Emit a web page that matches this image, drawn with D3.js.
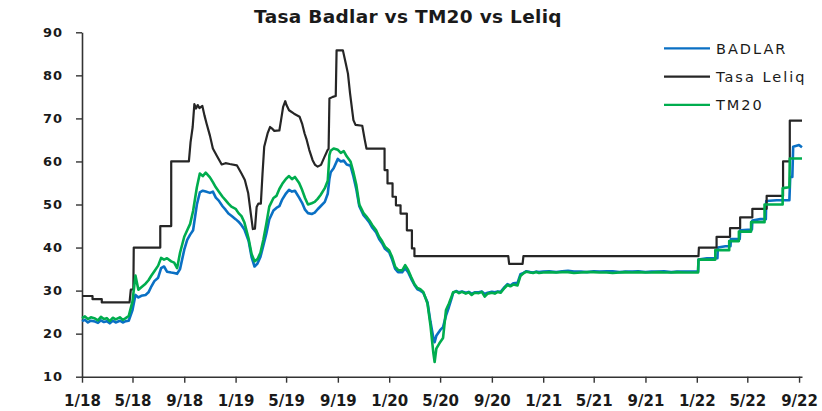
<!DOCTYPE html>
<html>
<head>
<meta charset="utf-8">
<script src="https://cdn.jsdelivr.net/npm/d3@7"></script>
<style>
  body { margin: 0; background: #fff; }
  svg text { font-family: "DejaVu Sans", sans-serif; }
</style>
</head>
<body>
<script>
// fechas semanales compartidas por BADLAR y TM20 (2018 - 2021)
const fechas = [
  '2018-01-01','2018-01-08','2018-01-15','2018-01-22',
  '2018-02-01','2018-02-08','2018-02-15','2018-02-22',
  '2018-03-01','2018-03-08','2018-03-15','2018-03-22',
  '2018-04-01','2018-04-08','2018-04-15','2018-04-22',
  '2018-05-01','2018-05-08','2018-05-15','2018-05-22',
  '2018-06-01','2018-06-08','2018-06-15','2018-06-22',
  '2018-07-01','2018-07-08','2018-07-15','2018-07-22',
  '2018-08-01','2018-08-08','2018-08-15','2018-08-22',
  '2018-09-01','2018-09-08','2018-09-15','2018-09-22',
  '2018-10-01','2018-10-08','2018-10-15','2018-10-22',
  '2018-11-01','2018-11-08','2018-11-15','2018-11-22',
  '2018-12-01','2018-12-08','2018-12-15','2018-12-22',
  '2019-01-01','2019-01-08','2019-01-15','2019-01-22',
  '2019-02-01','2019-02-08','2019-02-15','2019-02-22',
  '2019-03-01','2019-03-08','2019-03-15','2019-03-22',
  '2019-04-01','2019-04-08','2019-04-15','2019-04-22',
  '2019-05-01','2019-05-08','2019-05-15','2019-05-22',
  '2019-06-01','2019-06-08','2019-06-15','2019-06-22',
  '2019-07-01','2019-07-08','2019-07-15','2019-07-22',
  '2019-08-01','2019-08-08','2019-08-12','2019-08-15','2019-08-22',
  '2019-09-01','2019-09-08','2019-09-15','2019-09-22',
  '2019-10-01','2019-10-08','2019-10-15','2019-10-22',
  '2019-11-01','2019-11-08','2019-11-15','2019-11-22',
  '2019-12-01','2019-12-08','2019-12-15','2019-12-22',
  '2020-01-01','2020-01-08','2020-01-15','2020-01-22',
  '2020-02-01','2020-02-08','2020-02-15','2020-02-22',
  '2020-03-01','2020-03-08','2020-03-15','2020-03-22',
  '2020-04-01','2020-04-08','2020-04-15','2020-04-18','2020-04-22','2020-04-29',
  '2020-05-01','2020-05-08','2020-05-15','2020-05-22','2020-05-29',
  '2020-06-01','2020-06-08','2020-06-15','2020-06-22',
  '2020-07-01','2020-07-08','2020-07-15','2020-07-22',
  '2020-08-01','2020-08-08','2020-08-15','2020-08-22',
  '2020-09-01','2020-09-08','2020-09-15','2020-09-22',
  '2020-10-01','2020-10-08','2020-10-15','2020-10-22',
  '2020-11-01','2020-11-08','2020-11-15','2020-11-22',
  '2020-12-01','2020-12-08','2020-12-15','2020-12-22',
  '2021-01-01','2021-01-15','2021-02-01','2021-02-15','2021-03-01','2021-03-15',
  '2021-04-01','2021-04-15','2021-05-01','2021-05-15','2021-06-01','2021-06-15',
  '2021-07-01','2021-07-15','2021-08-01','2021-08-15','2021-09-01','2021-09-15',
  '2021-10-01','2021-10-15','2021-11-01','2021-11-15','2021-12-01','2021-12-15',
  '2022-01-04'
];

const tm20 = [
  23.6,24.0,23.4,23.8, 23.5,23.1,23.9,23.4, 23.6,22.9,23.7,23.3, 23.8,23.2,23.6,24.1,
  27.5,33.5,30.2,30.8, 31.6,32.4,33.5,34.5, 35.8,37.6,37.2,37.5, 36.8,36.5,35.2,38.8,
  42.5,44.0,45.5,48.5, 54.0,57.2,56.6,57.4, 56.3,55.2,54.0,53.0, 51.8,51.0,50.2,49.5,
  49.0,48.0,47.3,45.8, 42.0,38.5,36.8,37.3, 38.8,41.8,45.5,49.5, 51.5,52.0,53.6,54.8,
  56.0,56.6,55.9,56.4, 55.0,53.4,51.5,50.0, 50.3,50.6,51.3,52.2, 53.8,55.5,61.5,62.5,63.0,
  62.7,62.0,62.4,61.2, 60.0,57.5,54.5,50.0, 48.0,47.2,46.3,45.2, 44.0,42.5,41.5,40.2,
  39.3,37.8,35.6,34.8, 34.7,35.9,34.8,33.2, 31.5,30.6,30.3,29.7, 27.0,22.0,15.5,13.4,16.5,17.7,
  18.0,19.0,25.5,27.0,28.8, 29.6,29.8,29.4,29.7, 29.3,29.6,29.0,29.5, 29.4,29.7,28.6,29.3,
  29.5,29.3,29.7,29.5, 30.6,31.3,31.0,31.4, 31.2,33.4,34.0,34.4, 34.2,34.1,34.3,34.1,
  34.2,34.3,34.2,34.3,34.3,34.1, 34.2,34.3,34.3,34.2,34.2,34.1,
  34.2,34.3,34.2,34.3,34.2,34.2, 34.3,34.2,34.2,34.3,34.2,34.2,
  34.2
];

const badlar = [
  22.9,23.2,22.6,23.0, 22.8,22.5,23.1,22.7, 22.9,22.4,23.0,22.6, 23.0,22.6,22.9,23.0,
  25.5,29.0,28.4,28.8, 29.0,29.6,31.0,32.2, 33.0,35.2,35.6,34.4, 34.2,34.1,33.9,35.0,
  39.5,41.8,43.0,44.0, 50.0,52.8,53.2,53.0, 52.7,53.0,51.6,50.9, 49.6,48.8,47.9,47.4,
  46.6,46.0,45.2,44.2, 41.5,37.8,35.6,36.3, 37.8,40.5,43.2,46.5, 48.6,49.2,49.6,51.2,
  52.6,53.4,53.0,53.2, 51.6,50.4,48.8,48.0, 47.8,48.1,48.9,49.6, 50.6,52.5,56.0,57.5,58.4,
  60.6,60.0,60.2,59.3, 59.0,56.5,53.5,49.6, 47.5,46.7,45.8,44.6, 43.5,42.0,41.0,39.7,
  38.9,37.2,35.1,34.3, 34.3,35.2,34.3,32.8, 31.3,30.3,30.0,29.5, 27.3,22.8,19.0,18.0,19.5,20.5,
  20.8,21.5,24.2,26.2,28.4, 29.5,29.9,29.6,29.8, 29.5,29.7,29.3,29.6, 29.6,29.8,29.2,29.5,
  29.7,29.6,29.8,29.7, 30.8,31.5,31.2,31.7, 31.8,33.8,34.1,34.5, 34.3,34.2,34.4,34.3,
  34.4,34.5,34.3,34.5,34.6,34.4, 34.4,34.3,34.5,34.4,34.5,34.5,
  34.3,34.4,34.4,34.5,34.3,34.4, 34.4,34.5,34.3,34.4,34.4,34.4,
  34.4
];

// tramo 2022 (escalones)
const tm20Fechas22 = [
  '2022-01-05','2022-02-14','2022-02-14','2022-03-19','2022-03-19','2022-04-11','2022-04-11',
  '2022-05-10','2022-05-10','2022-06-11','2022-06-11','2022-07-24','2022-07-24','2022-08-09',
  '2022-08-10','2022-09-08'
];
const tm20Valores22 = [
  37.2,37.2,39.4,39.4,41.5,41.5,43.7,
  43.7,45.9,45.9,50.0,50.0,53.8,54.0,
  60.7,60.7
];

const badlarFechas22 = [
  '2022-01-05','2022-01-25','2022-02-19','2022-02-20','2022-03-10','2022-03-22','2022-03-23',
  '2022-04-13','2022-04-14','2022-05-12','2022-05-13','2022-06-01','2022-06-14','2022-06-15',
  '2022-07-10','2022-08-09','2022-08-11','2022-08-16','2022-08-18','2022-09-01','2022-09-08'
];
const badlarValores22 = [
  37.2,37.5,37.5,40.0,40.3,40.3,42.0,
  42.0,44.0,44.2,46.3,46.6,46.6,50.8,
  51.0,51.0,56.4,56.4,63.4,63.8,63.3
];

// tasa Leliq
const leliqFechas = [
  '2018-01-01','2018-01-26','2018-01-26','2018-02-17','2018-02-17','2018-04-24','2018-04-27',
  '2018-05-03','2018-05-04','2018-07-06','2018-07-06','2018-08-01','2018-08-01','2018-09-12',
  '2018-09-16','2018-09-21','2018-09-25','2018-09-29','2018-10-03','2018-10-07','2018-10-14',
  '2018-10-19','2018-10-24','2018-11-01','2018-11-08','2018-11-17','2018-11-29','2018-12-08',
  '2018-12-18','2019-01-04','2019-01-15','2019-01-23','2019-01-31','2019-02-06','2019-02-11',
  '2019-02-16','2019-02-20','2019-02-24','2019-03-02','2019-03-06','2019-03-10','2019-03-18',
  '2019-03-24','2019-03-28','2019-04-03','2019-04-15','2019-04-19','2019-04-24','2019-04-29',
  '2019-05-02','2019-05-08','2019-05-20','2019-06-02','2019-06-08','2019-06-14','2019-06-19',
  '2019-06-25','2019-07-03','2019-07-09','2019-07-15','2019-07-23','2019-07-31','2019-08-08',
  '2019-08-10','2019-08-12','2019-08-20','2019-08-27','2019-08-29','2019-09-13','2019-09-20',
  '2019-09-25','2019-09-30','2019-10-08','2019-10-13','2019-10-29','2019-11-04','2019-11-08',
  '2019-12-21','2019-12-21','2019-12-28','2019-12-28','2020-01-09','2020-01-09','2020-01-17',
  '2020-01-17','2020-01-28','2020-01-28','2020-02-12','2020-02-12','2020-02-24','2020-02-24',
  '2020-03-01','2020-03-01','2020-10-10','2020-10-12','2020-11-13','2020-11-15','2022-01-05',
  '2022-01-06','2022-02-17','2022-02-17','2022-03-21','2022-03-21','2022-04-14','2022-04-14',
  '2022-05-13','2022-05-13','2022-06-16','2022-06-16','2022-07-25','2022-07-25','2022-08-10',
  '2022-08-10','2022-09-08'
];
const leliq = [
  28.75,28.75,28.0,28.0,27.25,27.25,30.25,
  30.25,40,40,45,45,60,60,
  64.5,68,73.3,72.3,73.1,72.4,72.9,
  70.7,68.8,66,63,61.4,59.3,59.6,
  59.4,59.1,57.2,55.7,52.6,48,44.3,
  44.4,49.4,50.2,50.2,57.2,63.4,66.5,
  68,67.7,67.1,67.2,69.6,72.7,74.0,
  73.1,71.9,71.1,70.4,68.8,66.5,65,
  62.7,60.3,59.2,58.8,59.2,61,62.7,
  62.9,74.6,75,75.2,85.8,85.8,82.7,
  80.4,75.8,69.6,68.5,68.3,65,63,
  63,58,58,54.9,54.9,51.8,51.8,
  49.8,49.8,47.9,47.9,44,44,39.8,
  39.8,38,38,36.2,36.2,38,38,
  40,40,42.5,42.5,44.5,44.5,47,
  47,49,49,52,52,60,60,
  69.5,69.5
];

const series = ['BADLAR', 'Tasa Leliq', 'TM20'];
const colores = ['#0a70c4', '#262626', '#00ad4e'];

const yTicks = [10, 20, 30, 40, 50, 60, 70, 80, 90];
const xTickFechas = [
  '2018-01-01','2018-05-01','2018-09-01','2019-01-01','2019-05-01','2019-09-01','2020-01-01',
  '2020-05-01','2020-09-01','2021-01-01','2021-05-01','2021-09-01','2022-01-01','2022-05-01',
  '2022-09-01'
];
const xTickLabels = [
  '1/18','5/18','9/18','1/19','5/19','9/19','1/20',
  '5/20','9/20','1/21','5/21','9/21','1/22','5/22','9/22'
];

document.addEventListener('DOMContentLoaded', () => {
  drawChart();
});

const drawChart = () => {
  const width = 822, height = 411;
  const parse = d3.utcParse('%Y-%m-%d');

  const toPoints = (ds, vs) => ds.map((d, i) => ({date: parse(d), value: vs[i]}));

  const badlarData = toPoints(fechas, badlar).concat(toPoints(badlarFechas22, badlarValores22));
  const tm20Data = toPoints(fechas, tm20).concat(toPoints(tm20Fechas22, tm20Valores22));
  const leliqData = toPoints(leliqFechas, leliq);

  const svg = d3.select('body')
    .append('svg')
    .attr('width', width)
    .attr('height', height);

  const x = d3.scaleUtc()
    .domain([parse('2018-01-01'), parse('2022-09-08')])
    .range([82, 802]);

  const y = d3.scaleLinear()
    .domain([10, 90])
    .range([376.7, 32.3]);

  // titulo
  svg.append('text')
    .attr('x', 408)
    .attr('y', 22.5)
    .attr('text-anchor', 'middle')
    .attr('font-size', 18.5)
    .attr('font-weight', 'bold')
    .attr('letter-spacing', 0.3)
    .attr('fill', '#1a1a1a')
    .text('Tasa Badlar vs TM20 vs Leliq');

  const xAxis = svg.append('g')
    .attr('transform', `translate(0, ${y(10)})`)
    .call(d3.axisBottom(x)
      .tickValues(xTickFechas.map(parse))
      .tickFormat((d, i) => xTickLabels[i])
      .tickSize(6)
      .tickSizeOuter(0)
      .tickPadding(13));

  const yAxis = svg.append('g')
    .attr('transform', `translate(${x(parse('2018-01-01'))}, 0)`)
    .call(d3.axisLeft(y)
      .tickValues(yTicks)
      .tickSize(6)
      .tickSizeOuter(0)
      .tickPadding(13));

  [xAxis, yAxis].forEach(g => {
    g.select('.domain').attr('stroke', '#333').attr('stroke-width', 1.6);
    g.selectAll('.tick line').attr('stroke', '#333').attr('stroke-width', 1.4);
    g.selectAll('.tick text')
      .attr('font-family', '"DejaVu Sans", sans-serif')
      .attr('font-weight', 'bold')
      .attr('fill', '#1a1a1a');
  });
  xAxis.selectAll('.tick text').attr('font-size', 15);
  yAxis.selectAll('.tick text').attr('font-size', 13).attr('letter-spacing', 1);

  const line = d3.line()
    .x(d => x(d.date))
    .y(d => y(d.value));

  const datos = [badlarData, leliqData, tm20Data];
  const grosores = [2.6, 2.2, 2.6];

  svg.append('g')
    .selectAll('path')
    .data(datos)
    .enter()
    .append('path')
    .attr('fill', 'none')
    .attr('stroke', (d, i) => colores[i])
    .attr('stroke-width', (d, i) => grosores[i])
    .attr('stroke-linejoin', 'round')
    .attr('d', line);

  // leyenda
  const legend = svg.append('g')
    .selectAll('g')
    .data(series)
    .enter()
    .append('g')
    .attr('transform', (d, i) => `translate(664, ${48.3 + i * 28.3})`);

  legend.append('line')
    .attr('x1', 0)
    .attr('x2', 46)
    .attr('stroke', (d, i) => colores[i])
    .attr('stroke-width', 2.2);

  legend.append('text')
    .attr('x', 52)
    .attr('y', 5.3)
    .attr('font-size', 14.5)
    .attr('letter-spacing', 2)
    .attr('fill', '#1a1a1a')
    .text(d => d);
};
</script>
</body>
</html>
